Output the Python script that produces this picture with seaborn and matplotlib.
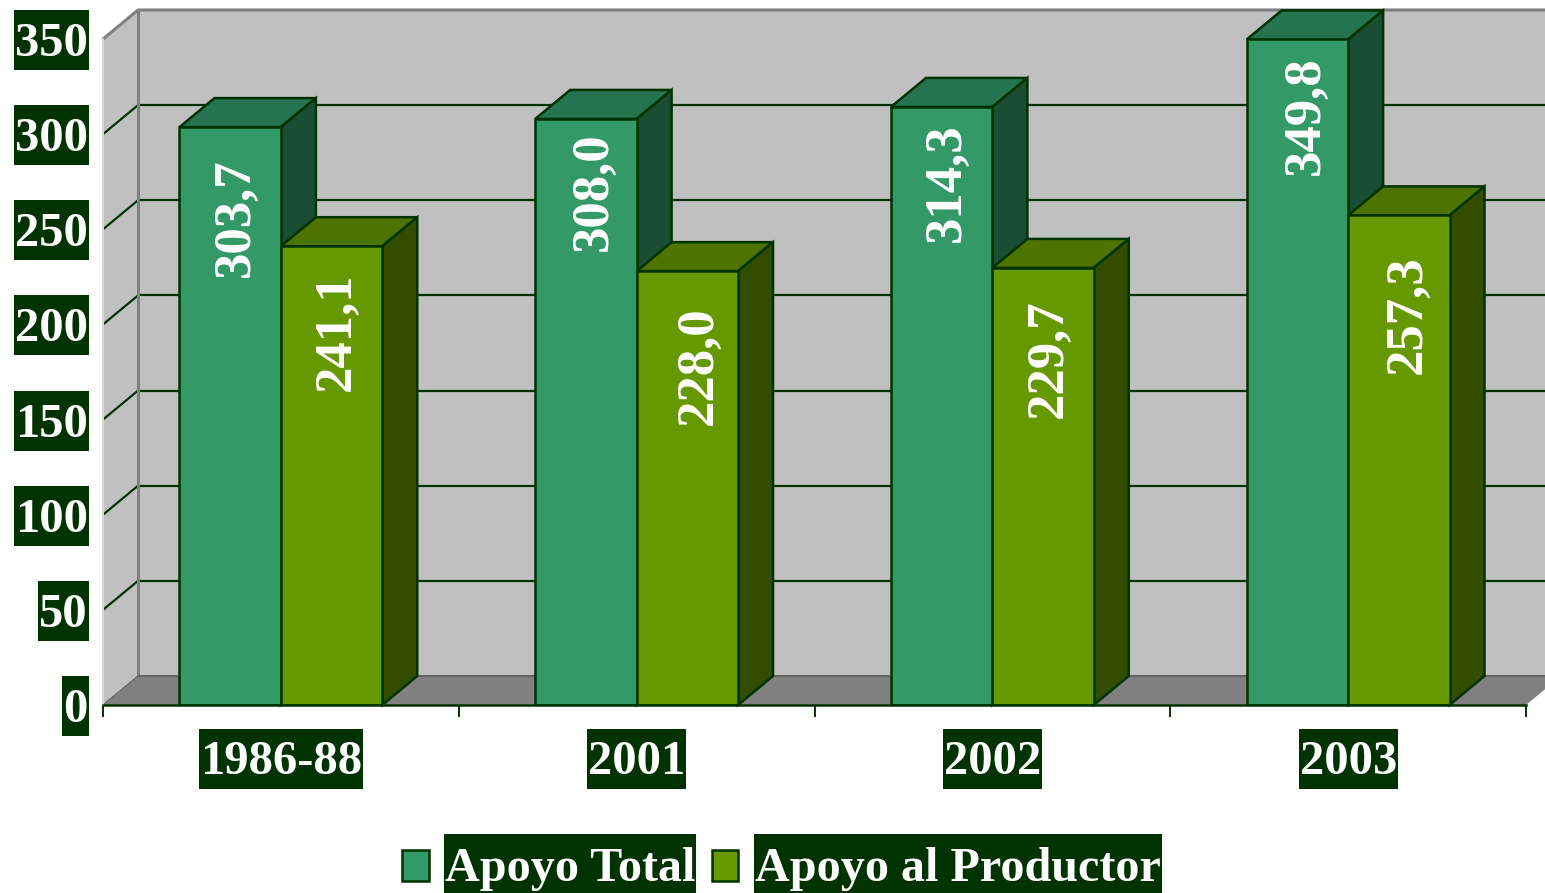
import matplotlib
matplotlib.use('Agg')
import matplotlib.pyplot as plt
import pandas as pd
import seaborn as sns
from matplotlib.patches import Rectangle
from matplotlib.transforms import IdentityTransform

# values
years = ['1986-88', '2001', '2002', '2003']
apoyo_total = [303.7, 308.0, 314.3, 349.8]
apoyo_productor = [241.1, 228.0, 229.7, 257.3]
y_ticks = [0, 50, 100, 150, 200, 250, 300, 350]

# colours
DARK = '#003300'
total_cols = ['#339966', '#267350', '#1a4d33']    # front, top, side
prod_cols = ['#669900', '#4d7300', '#334d00']

# label placement on the bars, in pixels
gap_total = [33, 15, 18, 18]
gap_prod = [27, 37, 33, 41]
shift_total = [0, 2, 0, 3]
shift_prod = [0, 6, 0, 3]

sns.set_theme(style='white')
plt.rcParams['font.family'] = ['Liberation Serif', 'DejaVu Serif']

W, H = 1545, 893
fig = plt.figure(figsize=(W / 100, H / 100), dpi=100, facecolor='white')
ax = fig.add_axes([103 / W, (H - 705) / H, 1423 / W, 666 / H])

df = pd.DataFrame({
    'year': years * 2,
    'value': apoyo_total + apoyo_productor,
    'serie': ['Apoyo Total'] * 4 + ['Apoyo al Productor'] * 4,
})
sns.barplot(data=df, x='year', y='value', hue='serie',
            palette=[total_cols[0], prod_cols[0]], saturation=1,
            width=0.57, gap=0, edgecolor=DARK, linewidth=1.8, ax=ax)

ax.set_xlim(-0.5, 3.5)
ax.set_ylim(0, 350)
ax.set_xlabel('')
ax.set_ylabel('')
ax.patch.set_alpha(0)

# 3d depth in data units
dx = 35 / (1423 / 4)
dy = 29 / (666 / 350)
x0, x1 = -0.5, 3.5

# walls and floor
ax.fill([x0 + dx, x1 + dx, x1 + dx, x0 + dx], [dy, dy, 350 + dy, 350 + dy],
        color='#c0c0c0', zorder=0.5, clip_on=False, lw=0)
ax.fill([x0, x0 + dx, x0 + dx, x0], [0, dy, 350 + dy, 350],
        color='#c0c0c0', zorder=0.5, clip_on=False, lw=0)
ax.fill([x0, x1, x1 + dx, x0 + dx], [0, 0, dy, dy],
        color='#808080', zorder=0.5, clip_on=False, lw=0)

# grid on both walls
for t in y_ticks[1:-1]:
    ax.plot([x0 + dx, x1 + dx], [t + dy, t + dy], color=DARK, lw=1.6,
            zorder=0.7, clip_on=False, solid_capstyle='butt')
    ax.plot([x0, x0 + dx], [t, t + dy], color=DARK, lw=1.6,
            zorder=0.7, clip_on=False)
grey = '#808080'
ax.plot([x0, x0 + dx, x1 + dx], [350, 350 + dy, 350 + dy], color=grey, lw=2.2,
        zorder=0.8, clip_on=False)
ax.plot([x0 + dx, x0 + dx], [dy, 350 + dy], color=grey, lw=2.2, zorder=0.8, clip_on=False)
ax.plot([x0, x0 + dx], [0, dy], color='#6a6a6a', lw=1, zorder=0.8, clip_on=False)
ax.plot([x0 + dx, x1 + dx], [dy, dy], color='#666666', lw=1.5, zorder=0.8, clip_on=False)
ax.plot([x0, x0], [0, 350], color='#d8d8d8', lw=1.5, zorder=0.8, clip_on=False)

# side and top faces for each bar, label on the front
series = zip(ax.containers, [total_cols, prod_cols], [gap_total, gap_prod], [shift_total, shift_prod])
for k, (cont, cols, gaps, shifts) in enumerate(series):
    for bar, gap, shift in zip(cont, gaps, shifts):
        a = bar.get_x()
        b = a + bar.get_width()
        h = bar.get_height()
        bar.set_zorder(4)
        ax.fill([a, b, b + dx, a + dx], [h, h, h + dy, h + dy], facecolor=cols[1],
                edgecolor=DARK, lw=1.8, zorder=2 + k, clip_on=False)
        ax.fill([b, b + dx, b + dx, b], [0, dy, h + dy, h], facecolor=cols[2],
                edgecolor=DARK, lw=1.8, zorder=2 + k, clip_on=False)
        ax.annotate(f'{h:.1f}'.replace('.', ','), xy=((a + b) / 2, h),
                    xytext=(4 + shift * 0.72, -(gap + 58) * 0.72), textcoords='offset points',
                    rotation=90, ha='center', va='center', color='white',
                    fontsize=38, fontweight='bold', zorder=6)

# axes
sns.despine(ax=ax, left=True, top=True, right=True)
ax.spines['bottom'].set_color(DARK)
ax.spines['bottom'].set_linewidth(1.8)
ax.spines['bottom'].set_zorder(5)
ax.set_yticks(y_ticks)
ax.set_xticks(range(len(years)), years)
ax.set_xticks([-0.5, 0.5, 1.5, 2.5, 3.5], minor=True)
ax.tick_params(axis='y', length=0, pad=11)
ax.tick_params(axis='x', which='major', length=0, pad=25)
ax.tick_params(axis='x', which='minor', length=8.6, width=1.4, color=DARK, bottom=True)
for lab in ax.get_xticklabels() + ax.get_yticklabels():
    lab.set_color('white')
    lab.set_fontsize(35)
    lab.set_fontweight('bold')

# legend
handles, labels = ax.get_legend_handles_labels()
leg = ax.legend(handles, labels, ncol=2, frameon=False,
                loc='lower left', bbox_to_anchor=(402 / W, 2 / H),
                bbox_transform=fig.transFigure, borderpad=0, borderaxespad=0,
                handlelength=0.55, handleheight=0.62, handletextpad=0.34,
                columnspacing=0.34, labelcolor='white', prop={'weight': 'bold', 'size': 34.7})
for hnd in leg.legend_handles:
    hnd.set_y(hnd.get_y() - 1)

# dark boxes behind all the text, each group sits a bit off the text centre
fig.canvas.draw()
rend = fig.canvas.get_renderer()
box_groups = [(ax.get_xticklabels(), 3), (ax.get_yticklabels(), 4), (leg.get_texts(), 5)]
for texts, off in box_groups:
    for txt in texts:
        ext = txt.get_window_extent(rend)
        cy = (ext.y0 + ext.y1) / 2 + off
        ax.add_patch(Rectangle((ext.x0 - 1, cy - 30), ext.width + 2, 60, facecolor=DARK, lw=0,
                               transform=IdentityTransform(), clip_on=False, zorder=0.3))

fig.savefig('out.png', dpi=100, facecolor='white')
